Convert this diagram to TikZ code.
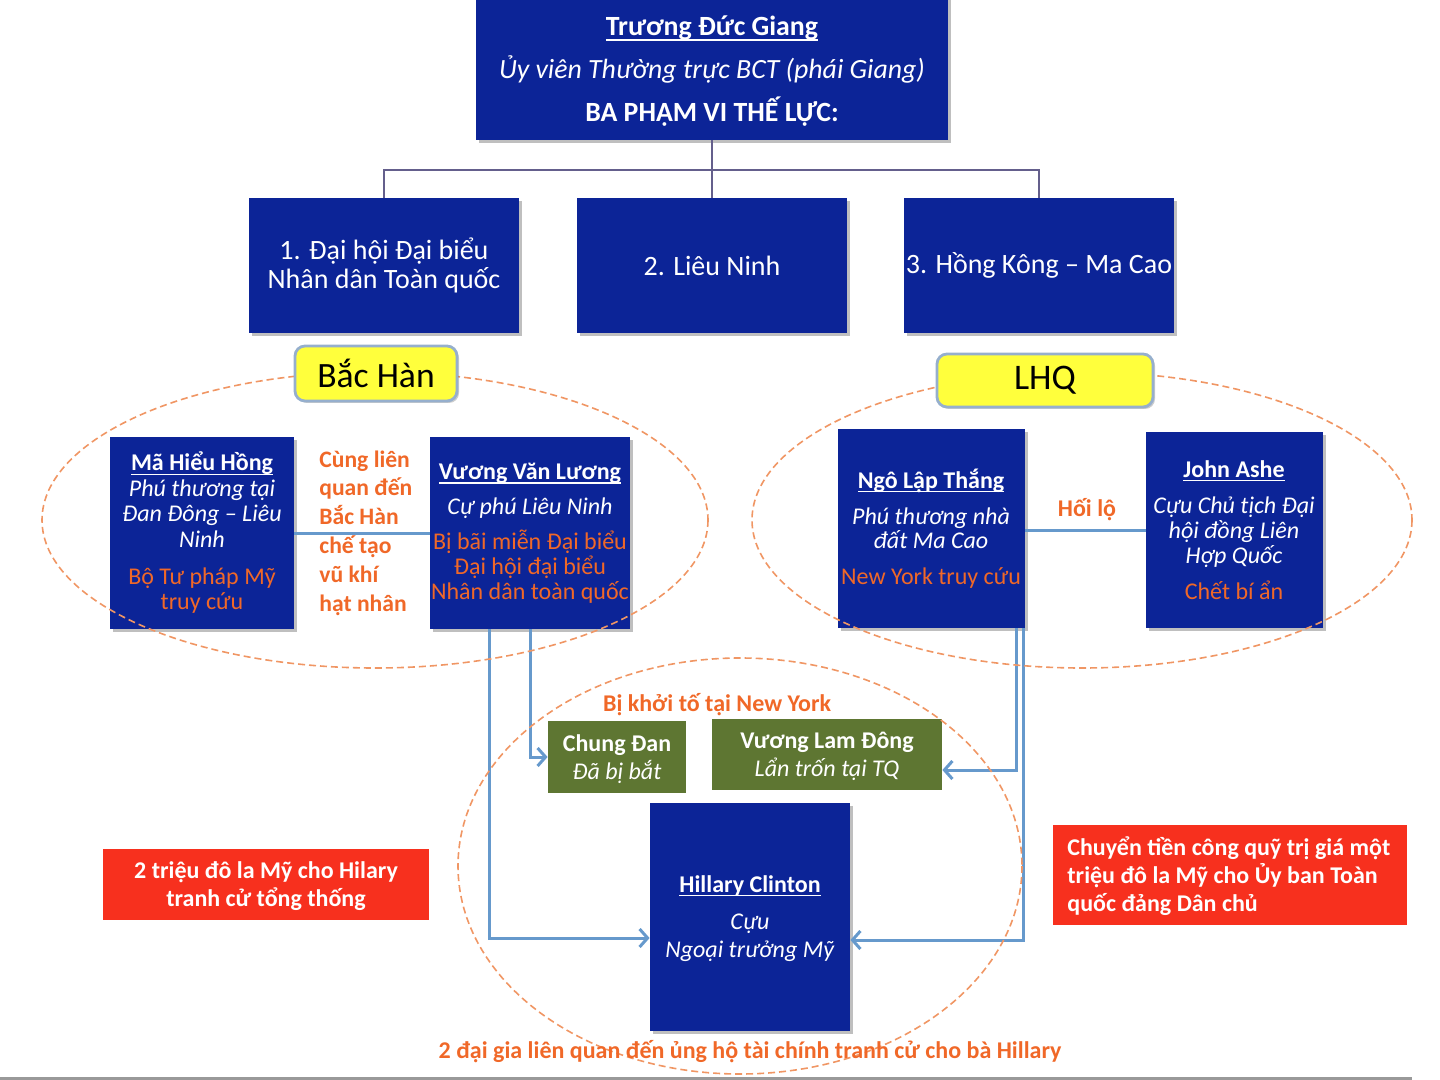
\documentclass[tikz,border=0pt]{standalone}
\usepackage{fontspec}
\setmainfont{Carlito}
\usetikzlibrary{fit,shadows,arrows.meta,calc}
\definecolor{dblue}{RGB}{12,36,151}
\definecolor{otxt}{RGB}{240,104,40}
\definecolor{oell}{RGB}{240,150,100}
\definecolor{lblue}{RGB}{102,153,204}
\definecolor{olive}{RGB}{94,118,50}
\definecolor{rbox}{RGB}{247,48,30}
\definecolor{ybox}{RGB}{255,255,60}
\definecolor{ybord}{RGB}{150,175,205}
\definecolor{treec}{RGB}{100,95,140}
\newlength\myulw
\newcommand\myul[1]{\settowidth\myulw{#1}\rlap{\rule[-0.17em]{\myulw}{0.06em}}#1}
\newcommand\fs[2]{\fontsize{#1}{#2}\selectfont}
\begin{document}
\begin{tikzpicture}[x=0.5pt,y=-0.5pt,
  bbox/.style={fill=dblue, inner sep=0pt, draw=none,
    drop shadow={shadow xshift=1.5pt,shadow yshift=-1.5pt,fill=black,opacity=0.25}},
  gbox/.style={fill=olive, inner sep=0pt},
  rbx/.style={fill=rbox, inner sep=0pt},
  ybx/.style={fill=ybox, draw=ybord, line width=1.4pt, rounded corners=5pt, inner sep=0pt,
    drop shadow={shadow xshift=1pt,shadow yshift=-1pt,fill=black,opacity=0.2}},
  txtw/.style={text=white, inner sep=0pt, align=center},
  txto/.style={text=otxt, inner sep=0pt},
  tree/.style={draw=treec, line width=1pt},
  conn/.style={draw=lblue, line width=1.5pt},
  arr/.style={draw=lblue, line width=1.5pt, -{Straight Barb[length=4pt,width=9pt,line width=1.5pt]}},
  ell/.style={draw=oell, dashed, line width=0.8pt, dash pattern=on 3.5pt off 2pt}
]
\useasboundingbox (0,0) rectangle (1440,1080);
% boxes
\node[bbox, fit={(476,-6) (948,140)}] (top) {};
\node[bbox, fit={(249,198) (519,333)}] (b1) {};
\node[bbox, fit={(577,198) (847,333)}] (b2) {};
\node[bbox, fit={(904,198) (1174,333)}] (b3) {};
\node[bbox, fit={(110,437) (294,629)}] (ma) {};
\node[bbox, fit={(430,437) (630,629)}] (vvl) {};
\node[bbox, fit={(838,429) (1025,628)}] (ngo) {};
\node[bbox, fit={(1146,432) (1323,628)}] (john) {};
\node[bbox, fit={(650,803) (850,1031)}] (hil) {};
\node[gbox, fit={(548,721) (686,793)}] (chung) {};
\node[gbox, fit={(712,719) (942,790)}] (vld) {};
\node[rbx, fit={(103,849) (429,920)}] (redl) {};
\node[rbx, fit={(1053,825) (1407,925)}] (redr) {};
% tree connectors
\draw[tree] (top.south) -- ++(0,30) coordinate (tj) -| (b1.north);
\draw[tree] (tj) -| (b3.north);
\draw[tree] (top.south) -- (b2.north);
% texts in boxes
\node[txtw, font=\fs{13.9}{21.5}] at (712,71.5) {\myul{\textbf{Trương Đức Giang}}\\\textit{Ủy viên Thường trực BCT (phái Giang)}\\\textbf{BA PHẠM VI THẾ LỰC:}};
\node[txtw, font=\fs{14}{14.5}] at (b1.center) {1. Đại hội Đại biểu\\Nhân dân Toàn quốc};
\node[txtw, font=\fs{14}{14.5}] at (b2.center) {2. Liêu Ninh};
\node[txtw, font=\fs{14}{14.5}] at (b3.center) {3. Hồng Kông – Ma Cao};
\node[txtw, font=\fs{12}{12.75}] at (202,533) {\myul{\textbf{Mã Hiểu Hồng}}\\\textit{Phú thương tại}\\\textit{Đan Đông – Liêu}\\\textit{Ninh}\\[5.75pt]\textcolor{otxt}{Bộ Tư pháp Mỹ}\\\textcolor{otxt}{truy cứu}};
\node[txtw, font=\fs{12}{12.5}] at (530,533.5) {\myul{\textbf{Vương Văn Lương}}\\[5pt]\textit{Cự phú Liêu Ninh}\\[5pt]\textcolor{otxt}{Bị bãi miễn Đại biểu}\\\textcolor{otxt}{Đại hội đại biểu}\\\textcolor{otxt}{Nhân dân toàn quốc}};
\node[txtw, font=\fs{12}{12}] at (931,528.5) {\myul{\textbf{Ngô Lập Thắng}}\\[6pt]\textit{Phú thương nhà}\\\textit{đất Ma Cao}\\[6pt]\textcolor{otxt}{New York truy cứu}};
\node[txtw, font=\fs{12}{12.5}] at (1234,530) {\myul{\textbf{John Ashe}}\\[5.5pt]\textit{Cựu Chủ tịch Đại}\\\textit{hội đồng Liên}\\\textit{Hợp Quốc}\\[5.5pt]\textcolor{otxt}{Chết bí ẩn}};
\node[txtw, font=\fs{12}{14}] at (617,759) {\textbf{Chung Đan}\\\textit{Đã bị bắt}};
\node[txtw, font=\fs{12}{14}] at (827,756) {\textbf{Vương Lam Đông}\\\textit{Lẩn trốn tại TQ}};
\node[txtw, font=\fs{12}{14}] at (750,918.5) {\myul{\textbf{Hillary Clinton}}\\[4.5pt]\textit{Cựu}\\\textit{Ngoại trưởng Mỹ}};
\node[txtw, font=\bfseries\fs{12}{14}] at (266,886) {2 triệu đô la Mỹ cho Hilary\\tranh cử tổng thống};
\node[txtw, font=\bfseries\fs{12}{14}, align=left, anchor=west] at (1067,876) {Chuyển tiền công quỹ trị giá một\\triệu đô la Mỹ cho Ủy ban Toàn\\quốc đảng Dân chủ};
% connectors between persons
\draw[conn] (ma.east) -- (vvl.west);
\draw[conn] (ngo.east |- john.west) -- (john.west);
\node[txto, font=\bfseries\fs{11.8}{14.4}, align=left, anchor=west] at (319,533) {Cùng liên\\quan đến\\Bắc Hàn\\chế tạo\\vũ khí\\hạt nhân};
\node[txto, font=\bfseries\fs{12}{14}] at (1087,510) {Hối lộ};
% arrows
\draw[arr] ($(vvl.south west)+(60,0)$) |- ($(hil.west)+(0,21)$);
\draw[arr] (vvl.south) |- (chung.west);
\draw[arr] ($(ngo.south east)+(-9,0)$) |- ($(vld.east)+(0,15.5)$);
\draw[arr] ($(ngo.south east)+(-2,0)$) |- ($(hil.east)+(0,23)$);
% ellipses
\draw[ell] (375,520) ellipse [x radius=333, y radius=148];
\draw[ell] (1082,520) ellipse [x radius=330, y radius=148];
\draw[ell] (740,866) ellipse [x radius=282, y radius=208];
% yellow labels
\node[ybx, fit={(295,346) (457,401)}] (bh) {};
\node[ybx, fit={(937,354) (1153,407)}] (lhq) {};
\node[inner sep=0pt, font=\fs{17.8}{20}] at (bh.center) {Bắc Hàn};
\node[inner sep=0pt, font=\fs{18}{20}] at (lhq.center) {LHQ};
% orange labels
\node[txto, font=\bfseries\fs{12}{14}] at (717,705) {Bị khởi tố tại New York};
\node[txto, font=\bfseries\fs{12}{14}] at (750,1052) {2 đại gia liên quan đến ủng hộ tài chính tranh cử cho bà Hillary};
% bottom gray rule
\fill[gray!80] (0,1077) rectangle (1412,1080);
\end{tikzpicture}
\end{document}
